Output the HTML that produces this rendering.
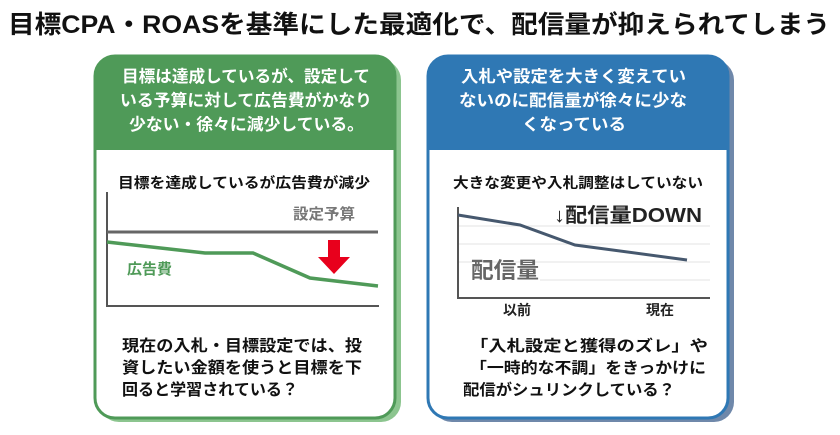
<!DOCTYPE html>
<html><head><meta charset="utf-8"><style>
html,body{margin:0;padding:0;background:#fff;width:840px;height:435px;overflow:hidden}
svg{display:block}
text{font-family:"Liberation Sans","Noto Sans CJK JP",sans-serif;font-weight:bold}
</style></head><body>
<svg width="840" height="435" viewBox="0 0 840 435">
<text x="8" y="33" font-size="25" fill="#111" textLength="822" lengthAdjust="spacingAndGlyphs">目標CPA・ROASを基準にした最適化で、配信量が抑えられてしまう</text>

<!-- left card -->
<rect x="99" y="60" width="302" height="362" rx="20" fill="#8cc58f"/>
<rect x="95" y="56" width="300" height="362" rx="20" fill="#fff" stroke="#4f9a58" stroke-width="3"/>
<path d="M95,150 V76 A20,20 0 0 1 115,56 H375 A20,20 0 0 1 395,76 V150 Z" fill="#4f9a58"/>
<g fill="#fff" font-size="16.5">
<text x="122" y="82" textLength="248" lengthAdjust="spacingAndGlyphs">目標は達成しているが、設定して</text>
<text x="120" y="106" textLength="252" lengthAdjust="spacingAndGlyphs">いる予算に対して広告費がかなり</text>
<text x="129" y="130" textLength="235" lengthAdjust="spacingAndGlyphs">少ない・徐々に減少している。</text>
</g>
<text x="118" y="188" font-size="14.5" fill="#111" textLength="252" lengthAdjust="spacingAndGlyphs">目標を達成しているが広告費が減少</text>
<line x1="107" y1="192" x2="107" y2="307" stroke="#555" stroke-width="2"/>
<line x1="106" y1="306" x2="379" y2="306" stroke="#555" stroke-width="2"/>
<line x1="107" y1="232" x2="378" y2="232" stroke="#666" stroke-width="3"/>
<text x="293" y="219" font-size="15" fill="#777" textLength="62" lengthAdjust="spacingAndGlyphs">設定予算</text>
<polyline points="107,242 205,253 253,253 310,278 378,286" fill="none" stroke="#4f9a58" stroke-width="3.5"/>
<text x="127" y="274" font-size="15" fill="#4f9a58">広告費</text>
<polygon points="328,240 340,240 340,257 350,257 334,274 318,257 328,257" fill="#e8001c"/>
<g fill="#111" font-size="16">
<text x="122" y="351" textLength="240" lengthAdjust="spacingAndGlyphs">現在の入札・目標設定では、投</text>
<text x="122" y="373" textLength="240" lengthAdjust="spacingAndGlyphs">資したい金額を使うと目標を下</text>
<text x="122" y="395" textLength="176" lengthAdjust="spacingAndGlyphs">回ると学習されている？</text>
</g>

<!-- right card -->
<rect x="432" y="60" width="302" height="362" rx="20" fill="#6f88aa"/>
<rect x="428" y="56" width="300" height="362" rx="20" fill="#fff" stroke="#2f78b4" stroke-width="3"/>
<path d="M428,150 V76 A20,20 0 0 1 448,56 H708 A20,20 0 0 1 728,76 V150 Z" fill="#2f78b4"/>
<g fill="#fff" font-size="16.5">
<text x="461" y="82" textLength="225" lengthAdjust="spacingAndGlyphs">入札や設定を大きく変えてい</text>
<text x="459" y="106" textLength="228" lengthAdjust="spacingAndGlyphs">ないのに配信量が徐々に少な</text>
<text x="522" y="130" textLength="104" lengthAdjust="spacingAndGlyphs">くなっている</text>
</g>
<text x="453" y="188" font-size="14.5" fill="#111" textLength="250" lengthAdjust="spacingAndGlyphs">大きな変更や入札調整はしていない</text>
<g stroke="#e3e3e3" stroke-width="1">
<line x1="458" y1="226" x2="710" y2="226"/><line x1="458" y1="244" x2="710" y2="244"/>
<line x1="458" y1="262" x2="710" y2="262"/><line x1="540" y1="280" x2="710" y2="280"/>
</g>
<line x1="458" y1="207" x2="458" y2="299" stroke="#555" stroke-width="2"/>
<line x1="457" y1="298" x2="710" y2="298" stroke="#555" stroke-width="2"/>
<polyline points="458,215 520,225 575,245 687,260" fill="none" stroke="#46586e" stroke-width="3"/>
<text x="554" y="222" font-size="20" fill="#222" textLength="148" lengthAdjust="spacingAndGlyphs">↓配信量DOWN</text>
<text x="471" y="278" font-size="22" fill="#666" textLength="68" lengthAdjust="spacingAndGlyphs">配信量</text>
<text x="503" y="315" font-size="14" fill="#222">以前</text>
<text x="646" y="315" font-size="14" fill="#222">現在</text>
<g fill="#111" font-size="15.5">
<text x="470" y="351" textLength="238" lengthAdjust="spacingAndGlyphs">「入札設定と獲得のズレ」や</text>
<text x="470" y="373" textLength="236" lengthAdjust="spacingAndGlyphs">「一時的な不調」をきっかけに</text>
<text x="463" y="395" textLength="212" lengthAdjust="spacingAndGlyphs">配信がシュリンクしている？</text>
</g>
</svg>
</body></html>
